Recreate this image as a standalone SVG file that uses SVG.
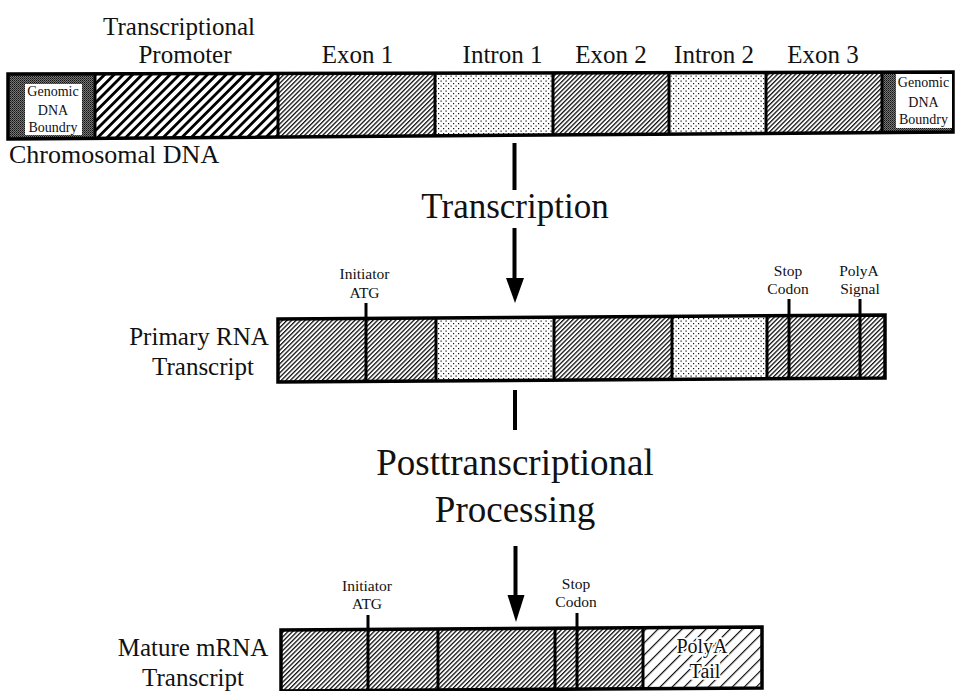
<svg xmlns="http://www.w3.org/2000/svg" width="957" height="691" viewBox="0 0 957 691">
  <style>
    text { font-family: "Liberation Serif", "Times New Roman", serif; fill: #111; }
    .lbl { font-size: 25px; text-anchor: middle; }
    .big { font-size: 35px; text-anchor: middle; }
    .big2 { font-size: 37px; text-anchor: middle; }
    .small { font-size: 15.5px; text-anchor: middle; }
    .tiny { font-size: 14px; text-anchor: middle; }
    .outline { fill: none; stroke: #000; stroke-width: 3.5; stroke-linejoin: miter; }
    .div { stroke: #000; stroke-width: 3; }
    .tick { stroke: #000; stroke-width: 3; }
    .shaft { stroke: #000; stroke-width: 4; }
  </style>
  <defs>
    <!-- fine hatch used for exons -->
    <pattern id="hatch" patternUnits="userSpaceOnUse" width="3.2" height="3.2" patternTransform="rotate(45)">
      <rect width="3.2" height="3.2" fill="#fff"/>
      <rect width="1.3" height="3.2" fill="#111"/>
    </pattern>
    <!-- bold stripes used for the promoter -->
    <pattern id="stripe" patternUnits="userSpaceOnUse" width="6.6" height="6.6" patternTransform="rotate(45)">
      <rect width="6.6" height="6.6" fill="#fff"/>
      <rect width="2.8" height="6.6" fill="#000"/>
    </pattern>
    <!-- sparse hatch used for the polyA tail -->
    <pattern id="sparse" patternUnits="userSpaceOnUse" width="8.5" height="8.5" patternTransform="rotate(45)">
      <rect width="8.5" height="8.5" fill="#fff"/>
      <rect width="1.2" height="8.5" fill="#111"/>
    </pattern>
    <!-- light stipple used for introns -->
    <pattern id="dots" patternUnits="userSpaceOnUse" width="5" height="5">
      <rect width="5" height="5" fill="#fff"/>
      <rect x="0.5" y="0.5" width="1.2" height="1.2" fill="#111"/>
      <rect x="3" y="3" width="1.2" height="1.2" fill="#111"/>
    </pattern>
    <!-- dense dark stipple used for the genomic boundaries -->
    <pattern id="dense" patternUnits="userSpaceOnUse" width="2" height="2">
      <rect width="2" height="2" fill="#777"/>
      <rect width="1" height="1" fill="#111"/>
      <rect x="1" y="1" width="1" height="1" fill="#333"/>
    </pattern>
    <clipPath id="clipDNA"><polygon points="8,74 953,72 953,132 8,139"/></clipPath>
    <clipPath id="clipPre"><polygon points="278,319 885,315 885,378 278,382"/></clipPath>
    <clipPath id="clipMat"><polygon points="281,630 762,627 762,688 281,691"/></clipPath>
  </defs>

  <rect width="957" height="691" fill="#fff"/>

  <!-- Chromosomal DNA -->
  <g id="chromosomal-dna">
    <text class="lbl" x="179" y="35">Transcriptional</text>
    <text class="lbl" x="185" y="63">Promoter</text>
    <text class="lbl" x="357.5" y="63">Exon 1</text>
    <text class="lbl" x="502.5" y="63">Intron 1</text>
    <text class="lbl" x="611" y="63">Exon 2</text>
    <text class="lbl" x="714" y="63">Intron 2</text>
    <text class="lbl" x="823" y="63">Exon 3</text>
    <g clip-path="url(#clipDNA)">
      <rect x="8" y="60" width="87" height="90" fill="url(#dense)"/>
      <rect x="95" y="60" width="183" height="90" fill="url(#stripe)"/>
      <rect x="278" y="60" width="157" height="90" fill="url(#hatch)"/>
      <rect x="435" y="60" width="118" height="90" fill="url(#dots)"/>
      <rect x="553" y="60" width="116" height="90" fill="url(#hatch)"/>
      <rect x="669" y="60" width="97" height="90" fill="url(#dots)"/>
      <rect x="766" y="60" width="116" height="90" fill="url(#hatch)"/>
      <rect x="882" y="60" width="75" height="90" fill="url(#dense)"/>
      <line class="div" x1="95" y1="60" x2="95" y2="150" stroke-width="1.5"/>
      <line class="div" x1="278" y1="60" x2="278" y2="150"/>
      <line class="div" x1="435" y1="60" x2="435" y2="150"/>
      <line class="div" x1="553" y1="60" x2="553" y2="150"/>
      <line class="div" x1="669" y1="60" x2="669" y2="150"/>
      <line class="div" x1="766" y1="60" x2="766" y2="150"/>
      <line class="div" x1="882" y1="60" x2="882" y2="150" stroke-width="4"/>
    </g>
    <polygon class="outline" points="8,74 953,72 953,132 8,139"/>
    <g id="boundary-left">
      <rect x="25" y="84" width="57" height="51" fill="#fff"/>
      <text class="tiny" x="53" y="96">Genomic</text>
      <text class="tiny" x="53" y="115">DNA</text>
      <text class="tiny" x="53" y="132">Boundry</text>
    </g>
    <g id="boundary-right">
      <rect x="896" y="74" width="56" height="54" fill="#fff"/>
      <text class="tiny" x="923.5" y="87">Genomic</text>
      <text class="tiny" x="923.5" y="107">DNA</text>
      <text class="tiny" x="923.5" y="124">Boundry</text>
    </g>
    <text x="9" y="163" font-size="26">Chromosomal DNA</text>
  </g>

  <!-- Primary RNA transcript -->
  <g id="primary-rna">
    <text class="lbl" x="199" y="345">Primary RNA</text>
    <text class="lbl" x="203" y="375">Transcript</text>
    <g clip-path="url(#clipPre)">
      <rect x="278" y="305" width="158" height="90" fill="url(#hatch)"/>
      <rect x="436" y="305" width="118" height="90" fill="url(#dots)"/>
      <rect x="554" y="305" width="118" height="90" fill="url(#hatch)"/>
      <rect x="672" y="305" width="95" height="90" fill="url(#dots)"/>
      <rect x="767" y="305" width="118" height="90" fill="url(#hatch)"/>
      <line class="div" x1="436" y1="305" x2="436" y2="395"/>
      <line class="div" x1="554" y1="305" x2="554" y2="395"/>
      <line class="div" x1="672" y1="305" x2="672" y2="395"/>
      <line class="div" x1="767" y1="305" x2="767" y2="395"/>
    </g>
    <polygon class="outline" points="278,319 885,315 885,378 278,382"/>
    <g id="pre-initiator">
      <line class="tick" x1="366" y1="303" x2="366" y2="381"/>
      <text class="small" x="364.5" y="279">Initiator</text>
      <text class="small" x="364.5" y="298">ATG</text>
    </g>
    <g id="pre-stop">
      <line class="tick" x1="789" y1="299" x2="789" y2="378"/>
      <text class="small" x="788" y="276">Stop</text>
      <text class="small" x="788" y="294">Codon</text>
    </g>
    <g id="pre-polya-signal">
      <line class="tick" x1="860" y1="299" x2="860" y2="378"/>
      <text class="small" x="859" y="276">PolyA</text>
      <text class="small" x="860" y="294">Signal</text>
    </g>
  </g>

  <!-- Mature mRNA transcript -->
  <g id="mature-mrna">
    <text class="lbl" x="193" y="656">Mature mRNA</text>
    <text class="lbl" x="193" y="686">Transcript</text>
    <g clip-path="url(#clipMat)">
      <rect x="281" y="615" width="157" height="80" fill="url(#hatch)"/>
      <rect x="438" y="615" width="117" height="80" fill="url(#hatch)"/>
      <rect x="555" y="615" width="88" height="80" fill="url(#hatch)"/>
      <rect x="643" y="615" width="119" height="80" fill="url(#sparse)"/>
      <line class="div" x1="438" y1="615" x2="438" y2="695"/>
      <line class="div" x1="555" y1="615" x2="555" y2="695"/>
      <line class="div" x1="643" y1="615" x2="643" y2="695"/>
    </g>
    <polygon class="outline" points="281,630 762,627 762,688 281,691"/>
    <g id="mat-initiator">
      <line class="tick" x1="368" y1="615" x2="368" y2="690"/>
      <text class="small" x="367" y="591">Initiator</text>
      <text class="small" x="367" y="609">ATG</text>
    </g>
    <g id="mat-stop">
      <line class="tick" x1="577" y1="613" x2="577" y2="689"/>
      <text class="small" x="576" y="589">Stop</text>
      <text class="small" x="576" y="607">Codon</text>
    </g>
    <g id="polya-tail">
      <text x="702" y="653" font-size="20" text-anchor="middle" stroke="#fff" stroke-width="3.5" paint-order="stroke">PolyA</text>
      <text x="705" y="678" font-size="20" text-anchor="middle" stroke="#fff" stroke-width="3.5" paint-order="stroke">Tail</text>
    </g>
  </g>

  <!-- Process arrows -->
  <g id="connectors">
    <line class="shaft" x1="514.5" y1="143" x2="514.5" y2="190"/>
    <text class="big" x="515" y="218">Transcription</text>
    <line class="shaft" x1="514.5" y1="228" x2="514.5" y2="282"/>
    <polygon points="506,278 524,278 515,303" fill="#000"/>

    <line class="shaft" x1="515" y1="390" x2="515" y2="430"/>
    <text class="big2" x="515" y="475">Posttranscriptional</text>
    <text class="big2" x="515" y="522">Processing</text>
    <line class="shaft" x1="515.5" y1="546" x2="515.5" y2="598"/>
    <polygon points="507.5,595 524.5,595 516,622" fill="#000"/>
  </g>
</svg>
